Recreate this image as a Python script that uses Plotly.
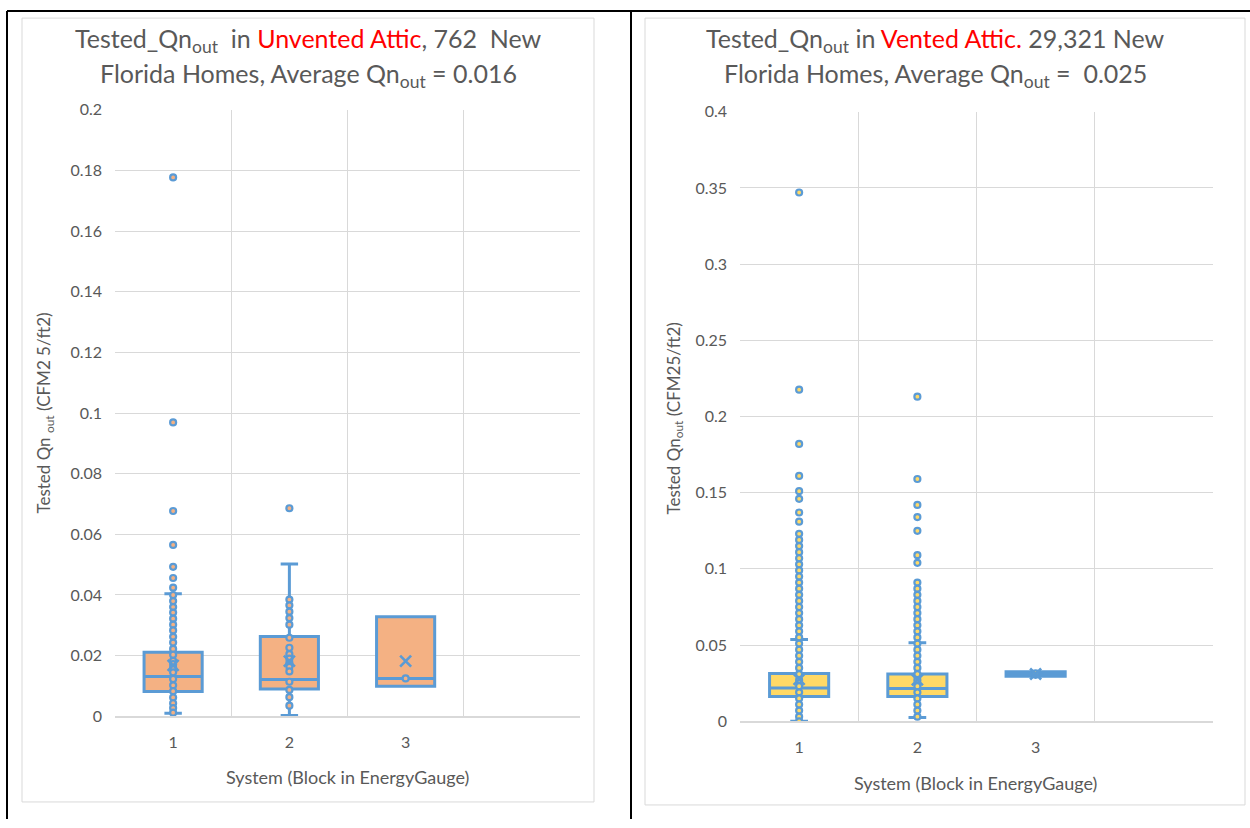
import plotly.graph_objects as go

W, H = 1250, 828

# ---------------- data ----------------
systems = [1, 2, 3]
x_tick_labels = ["1", "2", "3"]

# Left chart: Unvented attic
unv_q1 = [0.0082, 0.0090, 0.0099]
unv_median = [0.0131, 0.0121, 0.0125]
unv_q3 = [0.0211, 0.0263, 0.0328]
unv_lower = [0.0010, 0.0003, 0.0099]
unv_upper = [0.0404, 0.0502, 0.0328]
unv_mean = [0.0168, 0.0182, 0.0182]
unv_points_1 = [0.1777, 0.0969, 0.0677, 0.0565, 0.0493, 0.0456, 0.0424,
                0.0400, 0.0380, 0.0360, 0.0342, 0.0322, 0.0302, 0.0283, 0.0262,
                0.0243, 0.0222, 0.0203, 0.0183, 0.0172, 0.0160, 0.0145, 0.0123,
                0.0102, 0.0083, 0.0062, 0.0043, 0.0027, 0.0012]
unv_points_2 = [0.0686, 0.0385, 0.0366, 0.0345, 0.0324, 0.0302, 0.0259, 0.0226,
                0.0205, 0.0190, 0.0176, 0.0163, 0.0148, 0.0114, 0.0087, 0.0063,
                0.0035]
unv_points_3 = [0.0125]
unv_y_ticks = [0, 0.02, 0.04, 0.06, 0.08, 0.1, 0.12, 0.14, 0.16, 0.18, 0.2]
unv_y_labels = ["0", "0.02", "0.04", "0.06", "0.08", "0.1", "0.12", "0.14",
                "0.16", "0.18", "0.2"]

# Right chart: Vented attic
vent_q1 = [0.0163, 0.0163, 0.0295]
vent_median = [0.0218, 0.0215, 0.0310]
vent_q3 = [0.0314, 0.0311, 0.0325]
vent_lower = [0.0000, 0.0024, 0.0295]
vent_upper = [0.0536, 0.0516, 0.0325]
vent_mean = [0.0275, 0.0272, 0.0310]
vent_points_1 = [0.347, 0.2176, 0.182, 0.161, 0.151, 0.146, 0.137, 0.131,
                 0.123, 0.119, 0.115, 0.111, 0.107, 0.103, 0.099, 0.095, 0.091,
                 0.087, 0.083, 0.079, 0.075, 0.071, 0.067, 0.063, 0.059, 0.055,
                 0.051, 0.047, 0.043, 0.039, 0.035, 0.031, 0.027, 0.023, 0.019,
                 0.015, 0.011, 0.007, 0.003, 0.000]
vent_points_2 = [0.213, 0.159, 0.142, 0.134, 0.125, 0.109, 0.104,
                 0.091, 0.087, 0.083, 0.079, 0.075, 0.071, 0.067, 0.063, 0.059,
                 0.055, 0.051, 0.047, 0.043, 0.039, 0.035, 0.031, 0.027, 0.023,
                 0.019, 0.015, 0.011, 0.007, 0.003]
vent_points_3 = [0.0305, 0.0315]
vent_y_ticks = [0, 0.05, 0.1, 0.15, 0.2, 0.25, 0.3, 0.35, 0.4]
vent_y_labels = ["0", "0.05", "0.1", "0.15", "0.2", "0.25", "0.3", "0.35", "0.4"]

# ---------------- styles ----------------
BLUE = "#5B9BD5"
ORANGE = "#F4B183"
YELLOW = "#FFD966"
TXT = "#595959"
GRID = "#D9D9D9"
FONT = "Lato"

fig = go.Figure()


def add_panel(xa, ya, q1, med, q3, lo, hi, mean, pts, fill, box3_fill):
    for i, s in enumerate(systems):
        fc = box3_fill if i == 2 else fill
        fig.add_trace(go.Box(
            x=[s], q1=[q1[i]], median=[med[i]], q3=[q3[i]],
            lowerfence=[lo[i]], upperfence=[hi[i]],
            width=0.5, whiskerwidth=0.3, boxpoints=False,
            fillcolor=fc, line=dict(color=BLUE, width=3),
            xaxis=xa, yaxis=ya, showlegend=False, hoverinfo="skip"))
    for i, s in enumerate(systems):
        fig.add_trace(go.Scatter(
            x=[s] * len(pts[i]), y=pts[i], mode="markers",
            marker=dict(size=6, color=fill, line=dict(color=BLUE, width=2.2)),
            xaxis=xa, yaxis=ya, showlegend=False, hoverinfo="skip"))
    fig.add_trace(go.Scatter(
        x=systems, y=mean, mode="markers",
        marker=dict(symbol="x-thin", size=11, line=dict(color=BLUE, width=2.6)),
        xaxis=xa, yaxis=ya, showlegend=False, hoverinfo="skip"))


add_panel("x", "y", unv_q1, unv_median, unv_q3, unv_lower, unv_upper, unv_mean,
          [unv_points_1, unv_points_2, unv_points_3], ORANGE, ORANGE)
add_panel("x2", "y2", vent_q1, vent_median, vent_q3, vent_lower, vent_upper, vent_mean,
          [vent_points_1, vent_points_2, vent_points_3], YELLOW, BLUE)


def px_x(p):
    return p / W


# vertical placement compensates the slight vertical squeeze seen in the capture
def px_y(p):
    pc = (p - 7.85) / 0.981
    return 1 - pc / H


def xaxis_cfg(x0, x1):
    return dict(
        domain=[px_x(x0), px_x(x1)], range=[0.5, 4.5],
        tickmode="array", tickvals=systems, ticktext=x_tick_labels,
        showgrid=False, zeroline=False,
        showline=True, linecolor=GRID, linewidth=1.5,
        ticks="", ticklabelstandoff=11,
        tickfont=dict(family=FONT, size=16, color=TXT),
        minor=dict(tickmode="array", tickvals=[0.5, 1.5, 2.5, 3.5, 4.5],
                   showgrid=True, gridcolor=GRID, gridwidth=1.3, ticks=""),
        fixedrange=True)


def yaxis_cfg(y0, y1, rng, tv, tt, anchor):
    return dict(
        domain=[px_y(y1), px_y(y0)], range=rng,
        tickmode="array", tickvals=tv, ticktext=tt,
        showgrid=True, gridcolor=GRID, gridwidth=1.3, zeroline=False,
        showline=False, ticks="", ticklabelstandoff=12,
        tickfont=dict(family=FONT, size=16, color=TXT),
        anchor=anchor, fixedrange=True)


fig.update_layout(
    width=W, height=H,
    margin=dict(l=0, r=0, t=0, b=0),
    paper_bgcolor="white", plot_bgcolor="white",
    xaxis=dict(xaxis_cfg(115, 580), anchor="y"),
    yaxis=yaxis_cfg(108, 717, [0, 0.2], unv_y_ticks, unv_y_labels, "x"),
    xaxis2=dict(xaxis_cfg(740, 1213), anchor="y2"),
    yaxis2=yaxis_cfg(110, 722, [0, 0.4], vent_y_ticks, vent_y_labels, "x2"),
)

# frames
shapes = []
line_black = dict(color="black", width=2)
top_y = 1 - 1.0 / H
shapes.append(dict(type="line", xref="paper", yref="paper",
                   x0=px_x(7), x1=1, y0=top_y, y1=top_y, line=line_black))
shapes.append(dict(type="line", xref="paper", yref="paper",
                   x0=px_x(7), x1=px_x(7), y0=top_y, y1=0, line=line_black))
shapes.append(dict(type="line", xref="paper", yref="paper",
                   x0=px_x(631), x1=px_x(631), y0=top_y, y1=0, line=line_black))
shapes.append(dict(type="rect", xref="paper", yref="paper",
                   x0=px_x(22), x1=px_x(594), y0=px_y(803), y1=px_y(16),
                   line=dict(color=GRID, width=1)))
shapes.append(dict(type="rect", xref="paper", yref="paper",
                   x0=px_x(645), x1=px_x(1245), y0=px_y(806), y1=px_y(16),
                   line=dict(color=GRID, width=1)))
fig.update_layout(shapes=shapes)

RED = "#FF0000"
TSIZE = 25


def ann(x, y, text, size, angle=0):
    return dict(x=px_x(x), y=px_y(y), xref="paper", yref="paper", text=text,
                showarrow=False, xanchor="center", yanchor="middle",
                textangle=angle, font=dict(family=FONT, size=size, color=TXT))


annotations = [
    ann(308, 38, "Tested_Qn<sub>out</sub>  in <span style='color:%s'>Unvented Attic</span>, 762  New" % RED, TSIZE),
    ann(308, 73, "Florida Homes, Average Qn<sub>out</sub> = 0.016", TSIZE),
    ann(935, 38, "Tested_Qn<sub>out</sub> in <span style='color:%s'>Vented Attic.</span> 29,321 New" % RED, TSIZE),
    ann(935, 73, "Florida Homes, Average Qn<sub>out</sub> =  0.025", TSIZE),
    ann(347, 778, "System (Block in EnergyGauge)", 18),
    ann(975, 784, "System (Block in EnergyGauge)", 18),
    ann(45, 413, "Tested Qn <sub>out</sub> (CFM2 5/ft2)", 17, -90),
    ann(675, 418, "Tested Qn<sub>out</sub> (CFM25/ft2)", 17, -90),
]
fig.update_layout(annotations=annotations)

fig.write_html("out.html")
